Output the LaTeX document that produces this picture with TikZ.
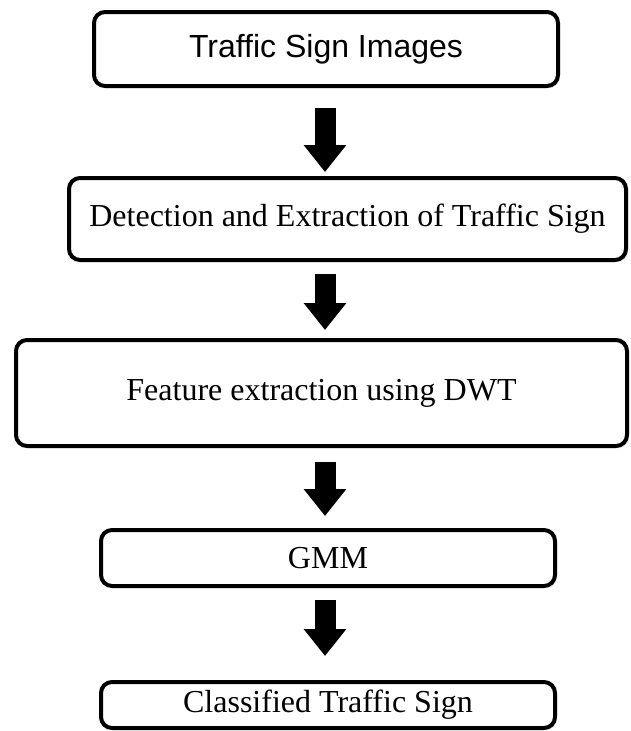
\documentclass[tikz,border=0pt]{standalone}
\usepackage{fontspec}
\setmainfont{Liberation Serif}
\newfontfamily\arialfont{Liberation Sans}
\usetikzlibrary{arrows.meta,shadows}
\begin{document}
\begin{tikzpicture}[x=1pt,y=-1pt,line join=round,font=\fontsize{32}{38}\selectfont,
	box/.style={draw,line width=4pt,rounded corners=11pt,fill=white,inner sep=0pt,
		drop shadow={opacity=.25,shadow xshift=2pt,shadow yshift=-2pt}},
	blockarrow/.style={line width=21pt,-{Triangle[width=41pt,length=27pt]}}]
	\useasboundingbox (0,0) rectangle (631,731);
	\coordinate (ax) at (325,0);
	\node[box,minimum width=464pt,minimum height=74pt] (img) at (326,49) {\arialfont Traffic Sign Images};
	\node[box,minimum width=557pt,minimum height=82pt] (det) at (347.5,219) {Detection and Extraction of Traffic Sign};
	\node[box,minimum width=611pt,minimum height=106pt] (feat) at (321.5,393) {Feature extraction using DWT};
	\node[box,minimum width=454pt,minimum height=56pt] (gmm) at (328,558) {GMM};
	\node[box,minimum width=454pt,minimum height=46pt] (cls) at (328,705) {Classified Traffic Sign};
	\draw[blockarrow,shorten <=20pt,shorten >=4pt] (img.south -| ax)--(det.north -| ax);
	\draw[blockarrow,shorten <=12pt,shorten >=8pt] (det.south -| ax)--(feat.north -| ax);
	\draw[blockarrow,shorten <=14pt,shorten >=12pt] (feat.south -| ax)--(gmm.north -| ax);
	\draw[blockarrow,shorten <=12pt,shorten >=24pt] (gmm.south -| ax)--(cls.north -| ax);
\end{tikzpicture}
\end{document}
